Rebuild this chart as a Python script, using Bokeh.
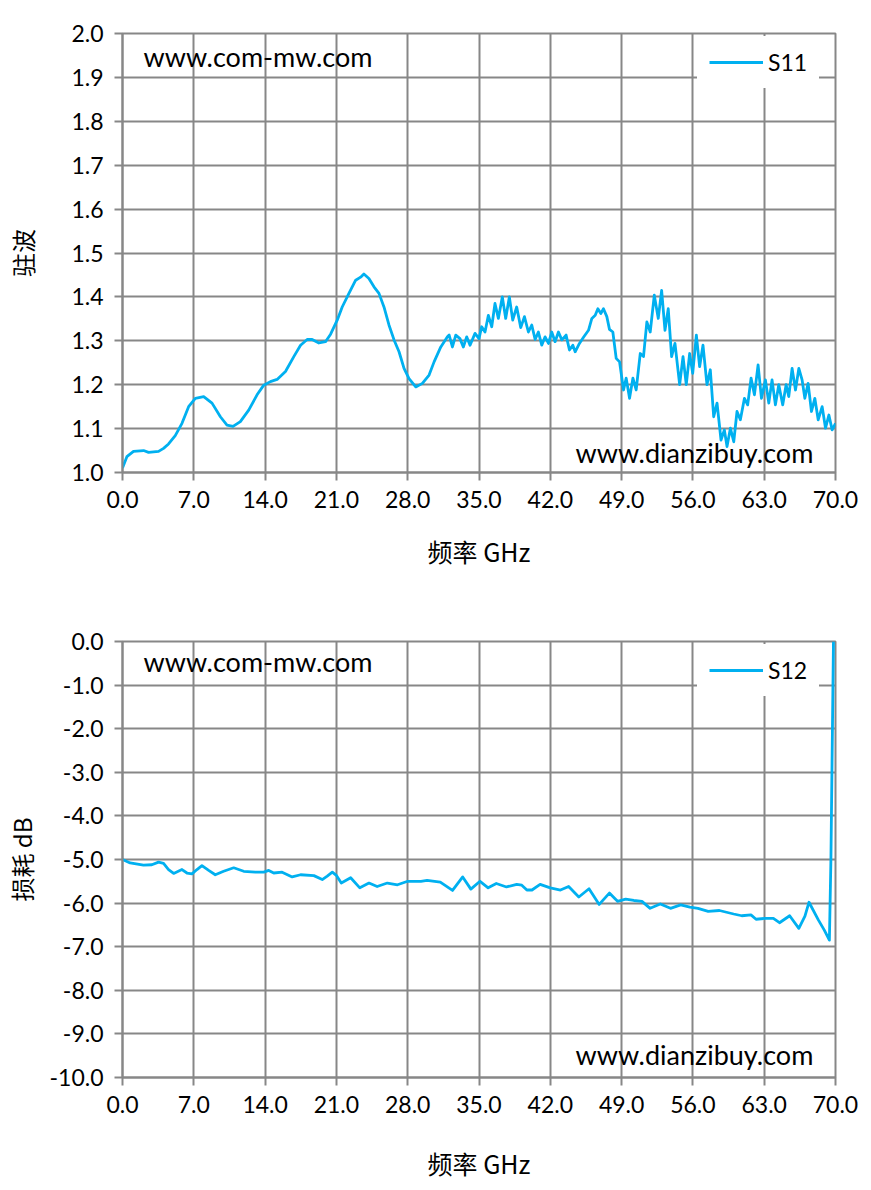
from bokeh.plotting import figure
from bokeh.layouts import column
from bokeh.models import Range1d, FixedTicker, NumeralTickFormatter, Label, Legend, LegendItem
from bokeh.embed import file_html
from bokeh.resources import INLINE

# ---------------- data ----------------
xticks = [0, 7, 14, 21, 28, 35, 42, 49, 56, 63, 70]

s11_freq = [0.0, 0.43, 1.08, 2.07, 2.56, 3.54, 4.03, 4.52, 5.18, 5.84, 6.49, 7.15, 7.97, 8.79,
            9.61, 10.26, 10.85, 11.57, 12.39, 13.21, 13.87, 14.52, 15.18, 16.00, 16.82, 17.48,
            18.13, 18.62, 19.28, 19.93, 20.43, 21.08, 21.57, 22.23, 22.89, 23.38, 23.70, 24.19,
            24.69, 25.18, 25.67, 26.16, 26.66, 27.15, 27.64, 28.13, 28.79, 29.44, 30.10, 30.59,
            31.25, 31.90, 32.07, 32.39, 32.72, 33.13, 33.46, 33.79, 34.12, 34.61, 35.00, 35.26,
            35.59, 35.92, 36.25, 36.57, 36.90, 37.29, 37.62, 37.98, 38.31, 38.70, 39.10, 39.46,
            39.85, 40.18, 40.51, 40.83, 41.16, 41.49, 41.82, 42.14, 42.47, 42.80, 43.13, 43.55,
            43.88, 44.21, 44.44, 44.86, 45.26, 45.75, 46.08, 46.41, 46.67, 46.96, 47.22, 47.55,
            47.81, 48.14, 48.47, 48.80, 49.19, 49.45, 49.78, 50.11, 50.43, 50.83, 51.15, 51.48,
            51.81, 52.21, 52.60, 52.93, 53.26, 53.58, 53.91, 54.24, 54.70, 55.03, 55.35, 55.68,
            55.98, 56.34, 56.66, 56.99, 57.38, 57.71, 58.04, 58.37, 58.76, 59.09, 59.35, 59.68,
            60.01, 60.33, 60.66, 61.06, 61.38, 61.71, 62.04, 62.40, 62.73, 63.12, 63.45, 63.77,
            64.10, 64.43, 64.82, 65.15, 65.41, 65.74, 66.07, 66.40, 66.72, 66.99, 67.31, 67.64,
            67.97, 68.30, 68.69, 69.02, 69.35, 69.67, 70.00]
s11_vswr = [1.010, 1.036, 1.048, 1.050, 1.046, 1.048, 1.055, 1.065, 1.084, 1.112, 1.150, 1.169,
            1.173, 1.158, 1.127, 1.108, 1.105, 1.116, 1.142, 1.177, 1.199, 1.207, 1.212, 1.230,
            1.264, 1.290, 1.303, 1.303, 1.295, 1.298, 1.315, 1.347, 1.377, 1.408, 1.438, 1.445,
            1.452, 1.442, 1.423, 1.408, 1.377, 1.336, 1.302, 1.275, 1.237, 1.214, 1.195, 1.203,
            1.222, 1.252, 1.286, 1.309, 1.313, 1.286, 1.313, 1.305, 1.286, 1.309, 1.290, 1.317,
            1.305, 1.332, 1.320, 1.358, 1.332, 1.385, 1.351, 1.400, 1.351, 1.400, 1.347, 1.377,
            1.330, 1.355, 1.320, 1.336, 1.303, 1.320, 1.290, 1.309, 1.294, 1.320, 1.298, 1.320,
            1.302, 1.313, 1.279, 1.290, 1.275, 1.294, 1.308, 1.324, 1.351, 1.358, 1.373, 1.362,
            1.373, 1.355, 1.326, 1.320, 1.260, 1.252, 1.188, 1.215, 1.169, 1.215, 1.188, 1.271,
            1.264, 1.343, 1.320, 1.404, 1.351, 1.415, 1.324, 1.373, 1.264, 1.294, 1.200, 1.264,
            1.200, 1.271, 1.226, 1.313, 1.241, 1.290, 1.200, 1.234, 1.127, 1.158, 1.074, 1.097,
            1.059, 1.101, 1.070, 1.139, 1.120, 1.169, 1.154, 1.215, 1.177, 1.245, 1.169, 1.211,
            1.158, 1.211, 1.154, 1.200, 1.154, 1.200, 1.173, 1.237, 1.188, 1.237, 1.211, 1.169,
            1.203, 1.139, 1.169, 1.120, 1.150, 1.101, 1.131, 1.097, 1.112]

s12_freq = [0.0, 0.75, 2.06, 2.88, 3.54, 4.03, 4.52, 5.02, 5.84, 6.33, 6.82, 7.31, 7.80, 8.46,
            9.11, 9.93, 10.92, 11.9, 13.05, 13.87, 14.36, 14.85, 15.67, 16.66, 17.48, 18.79,
            19.61, 20.1, 20.6, 21.02, 21.48, 22.4, 23.3, 24.2, 25.0, 26.0, 27.0, 28.0, 29.3,
            29.9, 31.2, 32.4, 33.4, 34.2, 35.1, 35.9, 36.7, 37.7, 38.7, 39.2, 39.7, 40.2, 41.0,
            42.0, 43.0, 43.8, 44.8, 45.8, 46.8, 47.8, 48.6, 49.4, 50.2, 51.0, 51.8, 52.8, 53.8,
            54.8, 55.7, 56.5, 57.5, 58.6, 60.0, 60.8, 61.7, 62.2, 63.1, 63.9, 64.5, 65.5, 66.4,
            67.0, 67.4, 68.3, 68.9, 69.4, 69.55, 69.7, 69.8]
s12_loss = [-5.00, -5.08, -5.13, -5.12, -5.06, -5.09, -5.23, -5.32, -5.23, -5.31, -5.33, -5.23,
            -5.14, -5.25, -5.35, -5.27, -5.19, -5.27, -5.29, -5.29, -5.25, -5.31, -5.29, -5.40,
            -5.35, -5.37, -5.46, -5.38, -5.29, -5.37, -5.54, -5.42, -5.65, -5.54, -5.62, -5.54,
            -5.58, -5.50, -5.50, -5.48, -5.52, -5.71, -5.40, -5.68, -5.50, -5.65, -5.55, -5.63,
            -5.57, -5.59, -5.70, -5.70, -5.57, -5.65, -5.70, -5.62, -5.86, -5.67, -6.03, -5.77,
            -5.96, -5.91, -5.94, -5.96, -6.12, -6.02, -6.12, -6.04, -6.09, -6.12, -6.19, -6.17,
            -6.25, -6.29, -6.27, -6.37, -6.35, -6.35, -6.45, -6.29, -6.58, -6.30, -5.98, -6.38,
            -6.62, -6.85, -5.0, -2.0, 0.0]

LINE = "#00B0F0"
GRID = "#878787"
TICKFONT = "Lato"
CJK = "Noto Sans CJK SC"


def make_fig(xs, ys, ymin, ymax, yticks, ylabel, name, top_border, frame_h, bottom_border,
             ylabel_standoff, xlabel_standoff, mark_top, mark_bottom):
    p = figure(frame_width=713, frame_height=frame_h, output_backend="svg",
               toolbar_location=None, x_range=Range1d(0, 70), y_range=Range1d(ymin, ymax),
               min_border_left=122, min_border_right=30, min_border_top=top_border,
               min_border_bottom=bottom_border, background_fill_color="white",
               border_fill_color="white")
    p.outline_line_color = GRID
    p.outline_line_width = 2
    for g in (p.xgrid[0], p.ygrid[0]):
        g.grid_line_color = GRID
        g.grid_line_width = 2
    p.xgrid[0].ticker = FixedTicker(ticks=xticks)
    p.ygrid[0].ticker = FixedTicker(ticks=yticks)
    for ax in (p.xaxis[0], p.yaxis[0]):
        ax.axis_line_color = GRID
        ax.axis_line_width = 2
        ax.major_tick_line_color = GRID
        ax.major_tick_line_width = 2
        ax.major_tick_out = 8
        ax.major_tick_in = 0
        ax.minor_tick_line_color = None
        ax.major_label_text_font = TICKFONT
        ax.major_label_text_font_size = "23px"
        ax.major_label_text_color = "black"
        ax.formatter = NumeralTickFormatter(format="0.0")
        ax.axis_label_text_font = CJK
        ax.axis_label_text_font_size = "24px"
        ax.axis_label_text_font_style = "normal"
        ax.axis_label_text_color = "black"
    p.xaxis[0].ticker = FixedTicker(ticks=xticks)
    p.yaxis[0].ticker = FixedTicker(ticks=yticks)
    p.xaxis[0].major_label_standoff = 10
    p.yaxis[0].major_label_standoff = 11
    p.xaxis[0].axis_label = "频率 GHz"
    p.xaxis[0].axis_label_text_font_size = "25px"
    p.xaxis[0].axis_label_standoff = xlabel_standoff
    p.yaxis[0].axis_label = ylabel
    p.yaxis[0].axis_label_standoff = ylabel_standoff

    r = p.line(xs, ys, line_color=LINE, line_width=2.8, line_join="round")

    leg = Legend(items=[LegendItem(label=name, renderers=[r])], location=(575, frame_h - 7 - 48),
                 glyph_width=54, glyph_height=22, label_height=22, padding=11, spacing=0,
                 label_standoff=5, label_text_font=TICKFONT, label_text_font_size="23px",
                 label_text_color="black", border_line_color="white", border_line_width=1,
                 background_fill_color="white", background_fill_alpha=1.0, margin=0)
    p.add_layout(leg)

    p.add_layout(Label(x=21, y=frame_h - mark_top, x_units="screen", y_units="screen",
                       text="www.com-mw.com", text_font=TICKFONT, text_font_size="27px",
                       text_baseline="middle", text_align="left", text_color="black"))
    p.add_layout(Label(x=453, y=mark_bottom, x_units="screen", y_units="screen",
                       text="www.dianzibuy.com", text_font=TICKFONT, text_font_size="27px",
                       text_baseline="middle", text_align="left", text_color="black"))
    return p


p1 = make_fig(s11_freq, s11_vswr, 1.0, 2.0, [1.0 + 0.1 * i for i in range(11)], "驻波", "S11",
              33, 439, 125, 28, 22, 23, 20)

p2 = make_fig(s12_freq, s12_loss, -10.0, 0.0, [-10.0 + i for i in range(11)], "损耗 dB", "S12",
              44, 436, 100, 8, 29, 20, 23)

layout = column(p1, p2, spacing=0)
open("out.html", "w").write(file_html(layout, INLINE))
